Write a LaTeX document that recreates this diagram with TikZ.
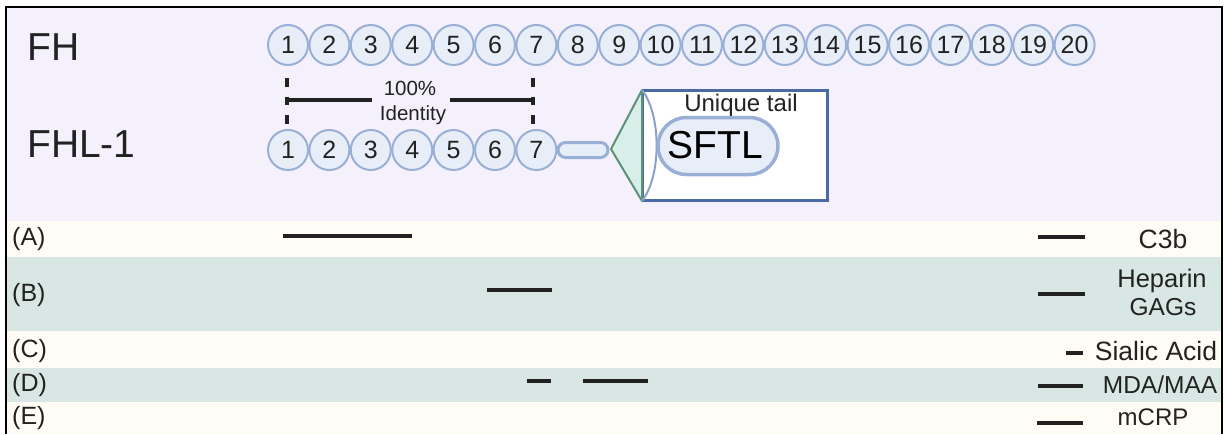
\documentclass[tikz,border=0pt]{standalone}
\usepackage{fontspec}
\setmainfont{Liberation Sans}
\usetikzlibrary{shapes.misc}
\definecolor{lav}{HTML}{F5F1FC}
\definecolor{cream}{HTML}{FEFCF4}
\definecolor{sage}{HTML}{D8E7E4}
\definecolor{domfill}{HTML}{E8EEF8}
\definecolor{domline}{HTML}{9AAFD6}
\definecolor{boxline}{HTML}{4A6AA5}
\definecolor{trifill}{HTML}{D7EEE9}
\definecolor{triline}{HTML}{5F9078}
\definecolor{ink}{HTML}{222222}
\begin{document}
\begin{tikzpicture}[x=1pt,y=-1pt,
  dom/.style={circle,minimum size=40pt,inner sep=0pt,draw=domline,line width=2pt,fill=domfill,
    text=ink,font=\fontsize{25}{29}\selectfont},
  bigl/.style={anchor=west,inner sep=0pt,text=ink,font=\fontsize{39}{44}\selectfont},
  rowl/.style={anchor=west,inner sep=0pt,text=ink,font=\fontsize{25}{29}\selectfont},
  ligl/.style={inner sep=0pt,text=ink,align=center},
  bar/.style={line width=4pt,draw=ink},
  idl/.style={inner sep=0pt,text=ink,font=\fontsize{20.5}{24}\selectfont}]
\useasboundingbox (0,0) rectangle (1226,434);
% backgrounds
\fill[lav] (6,7) rectangle (1222,221);
\fill[cream] (6,221) rectangle (1222,257);
\fill[sage] (6,257) rectangle (1222,331);
\fill[cream] (6,331) rectangle (1222,368);
\fill[sage] (6,368) rectangle (1222,402);
\fill[cream] (6,402) rectangle (1222,434);
\draw[line width=2.5pt] (6,434) -- (6,7) -- (1222,7) -- (1222,434);
% labels
\node[bigl] (lfh) at (27,47) {FH};
\node[bigl] (lfhl) at (27,144) {FHL-1};
% FH domains
\foreach \i in {1,...,20} \node[dom] (fh\i) at ({288+(\i-1)*41.4},45) {\i};
% FHL-1 domains
\foreach \i in {1,...,7} \node[dom] (fhl\i) at ({288+(\i-1)*41.4},150) {\i};
% identity marker
\draw[ink,line width=4pt,dash pattern=on 8.5pt off 10pt] (287,78) -- (287,124);
\draw[ink,line width=4pt,dash pattern=on 8.5pt off 10pt] (533,78) -- (533,124);
\node[idl] (p100) at (410,88.5) {100\%};
\node[idl,anchor=base] (ident) at (413,120) {Identity};
\draw[ink,line width=4pt] (287,100) -- (372,100);
\draw[ink,line width=4pt] (450,100) -- (533,100);
% linker and tail
\node[rounded rectangle,minimum width=50pt,minimum height=15pt,inner sep=0pt,draw=domline,line width=3pt,fill=domfill] (link) at (583,150) {};
\node[rectangle,minimum width=184pt,minimum height=109pt,inner sep=0pt,draw=boxline,line width=2pt,fill=white] (tail) at (735,145.5) {};
\coordinate (apex) at (611,149);
\draw[triline,line width=2pt,fill=trifill,line join=round] (apex) -- (tail.north west) -- (tail.south west) -- cycle;
\draw[boxline,line width=2pt] (tail.north west) -- (tail.north east) -- (tail.south east) -- (tail.south west);
\draw[domline!80!boxline,line width=2pt] (tail.north west) .. controls (661.5,115) and (661.5,176) .. (tail.south west);
\node[inner sep=0pt,anchor=base,text=ink,font=\fontsize{24}{28}\selectfont] (utail) at (741,111) {Unique tail};
\node[rounded rectangle,minimum width=120pt,minimum height=57pt,inner sep=0pt,draw=domline,line width=3.5pt,fill=domfill] (sftl) at (718,146) {};
\node[inner sep=0pt,text=black,font=\fontsize{39}{44}\selectfont] (sftlt) at (715.5,145) {SFTL};
% row labels
\node[rowl] (ra) at (12,239) {(A)};
\node[rowl] (rb) at (12,295) {(B)};
\node[rowl] (rc) at (12,351) {(C)};
\node[rowl] (rd) at (12,385) {(D)};
\node[rowl] (re) at (12,418) {(E)};
% binding bars
\draw[bar] (283,236) -- (412,236);
\draw[bar] (1038,237) -- (1085,237);
\draw[bar] (487,290) -- (552,290);
\draw[bar] (1038,294) -- (1085,294);
\draw[bar] (1066,353) -- (1083,353);
\draw[bar] (527,381) -- (551,381);
\draw[bar] (583,381) -- (648,381);
\draw[bar] (1038,386) -- (1083,386);
\draw[bar] (1037,423) -- (1083,423);
% ligand labels
\node[ligl,anchor=base,font=\fontsize{26.5}{30}\selectfont] (c3b) at (1163,248) {C3b};
\node[ligl,anchor=base,font=\fontsize{25.5}{30}\selectfont] (hep) at (1162,287) {Heparin};
\node[ligl,anchor=base,font=\fontsize{24.5}{30}\selectfont] (gag) at (1163,315) {GAGs};
\node[ligl,anchor=base,font=\fontsize{26.5}{30}\selectfont] (sia) at (1156,360.5) {Sialic Acid};
\node[ligl,anchor=base,font=\fontsize{24.5}{30}\selectfont] (mda) at (1160,393) {MDA/MAA};
\node[ligl,anchor=base,font=\fontsize{24}{30}\selectfont] (mcrp) at (1153,425) {mCRP};
\end{tikzpicture}
\end{document}
